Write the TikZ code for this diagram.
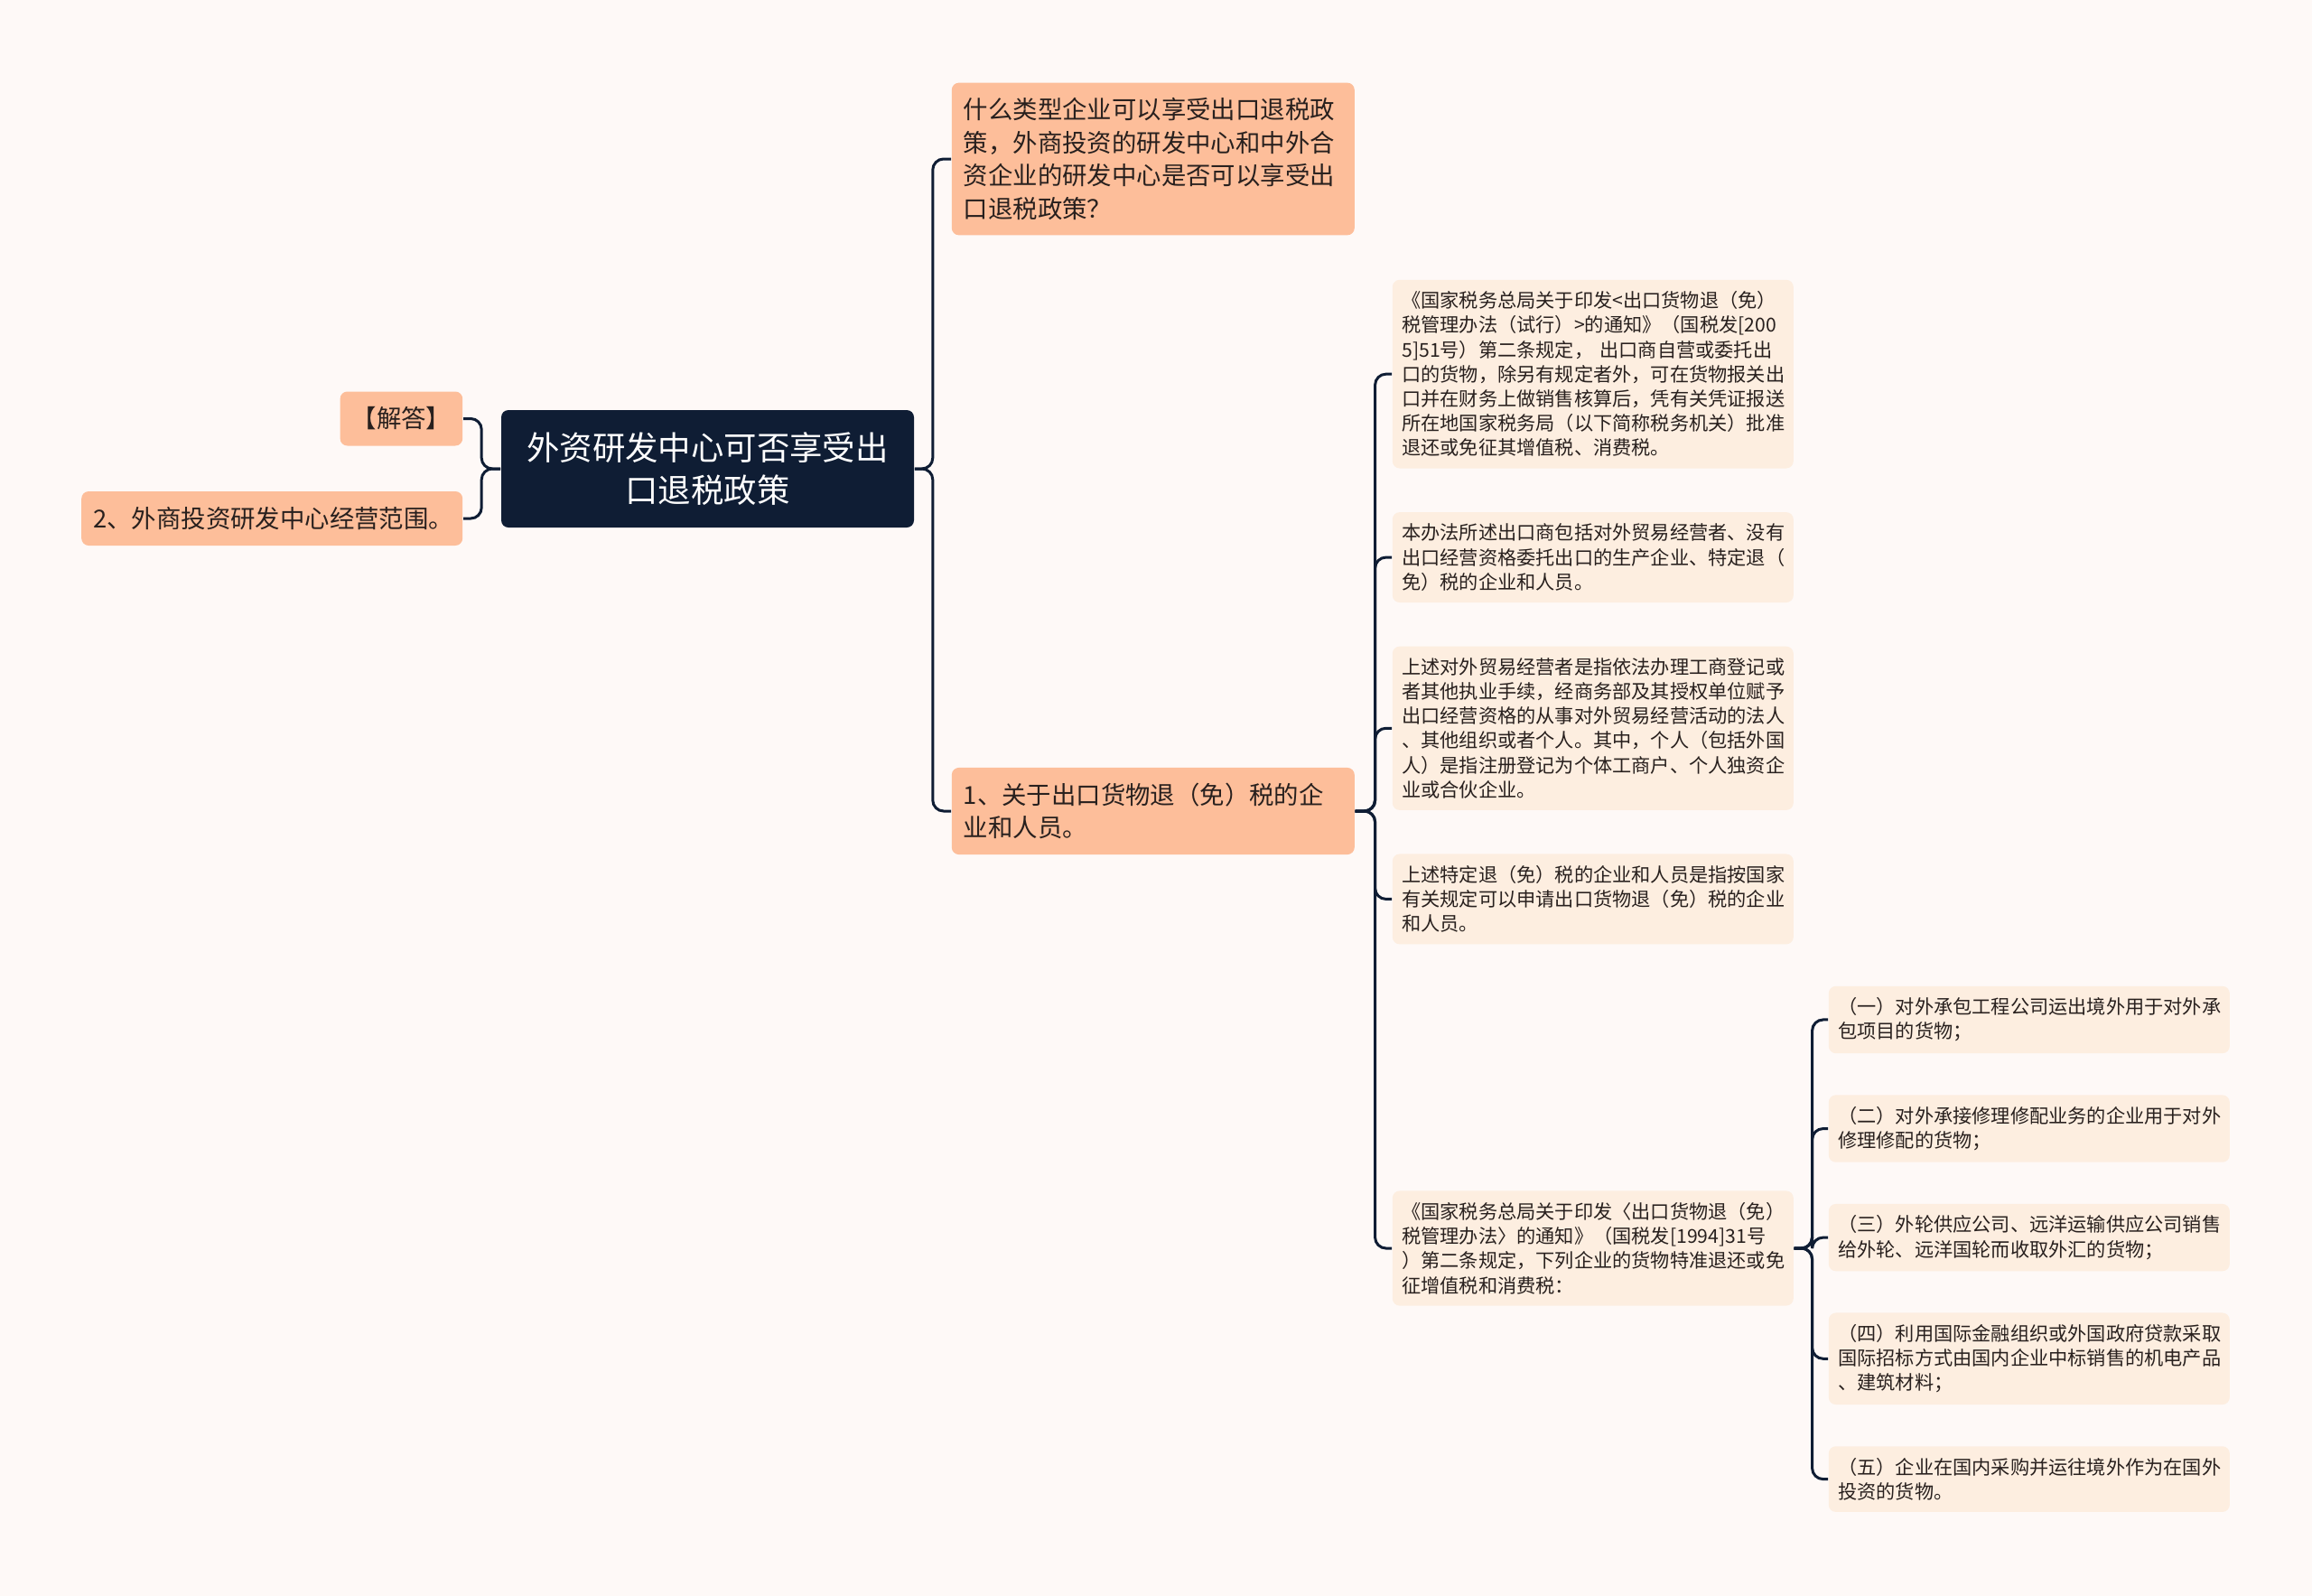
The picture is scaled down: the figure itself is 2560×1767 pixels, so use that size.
\documentclass[tikz,border=0pt]{standalone}
\usepackage{fontspec}
\setmainfont{Noto Sans CJK SC}
\usepackage{xcolor}
\usetikzlibrary{positioning}

\definecolor{paper}{RGB}{254,249,247}
\definecolor{navy}{RGB}{15,29,52}
\definecolor{peach}{RGB}{253,190,154}
\definecolor{cream}{RGB}{253,238,224}
\definecolor{ink}{RGB}{40,32,30}

\begin{document}
\begin{tikzpicture}[x=0.5pt,y=-0.5pt,node distance=23.5pt,thick,
	root node/.style={fill=navy,text=white,rounded corners=4pt,align=center,
		minimum width=228.5pt,minimum height=65pt,font=\fontsize{18.2pt}{23.7pt}\selectfont},
	topic node/.style={fill=peach,text=ink,rounded corners=4pt,align=left,
		inner xsep=6.5pt,inner ysep=8.5pt,font=\fontsize{13.7pt}{18.2pt}\selectfont},
	side node/.style={topic node,inner ysep=0pt,minimum height=30pt},
	leaf node/.style={fill=cream,text=ink,rounded corners=4pt,align=left,text width=211.5pt,
		inner xsep=5.25pt,inner ysep=6.4pt,font=\fontsize{10.6pt}{13.6pt}\selectfont},
	link/.style={draw=navy,line width=1.5pt,rounded corners=6pt}]
	
	\fill[paper] (0,0) rectangle (2560,1767);
	\useasboundingbox (0,0) rectangle (2560,1767);
	
	\node[root node] (root) at (783.5,519) {外资研发中心可否享受出\\口退税政策};
	
	% left side
	\node[side node,anchor=east] (answer) at (513,463.5) {【解答】};
	\node[side node,anchor=east,text width=198pt] (scope) at (513,574) {2、外商投资研发中心经营范围。};
	
	% right side
	\node[topic node,text width=210pt,anchor=west] (question) at (1053,176) {什么类型企业可以享受出口退税政\\策，外商投资的研发中心和中外合\\资企业的研发中心是否可以享受出\\口退税政策？};
	\node[topic node,text width=210pt,anchor=west] (firms) at (1053,898) {1、关于出口货物退（免）税的企\\业和人员。};
	
	\node[leaf node,anchor=north west] (rule1) at (1541,309) {《国家税务总局关于印发<出口货物退（免）\\税管理办法（试行）>的通知》（国税发[200\\5]51号）第二条规定， 出口商自营或委托出\\口的货物，除另有规定者外，可在货物报关出\\口并在财务上做销售核算后，凭有关凭证报送\\所在地国家税务局（以下简称税务机关）批准\\退还或免征其增值税、消费税。};
	\node[leaf node] (rule2) [below=of rule1] {本办法所述出口商包括对外贸易经营者、没有\\出口经营资格委托出口的生产企业、特定退（\\免）税的企业和人员。};
	\node[leaf node] (rule3) [below=of rule2] {上述对外贸易经营者是指依法办理工商登记或\\者其他执业手续，经商务部及其授权单位赋予\\出口经营资格的从事对外贸易经营活动的法人\\、其他组织或者个人。其中，个人（包括外国\\人）是指注册登记为个体工商户、个人独资企\\业或合伙企业。};
	\node[leaf node] (rule4) [below=of rule3] {上述特定退（免）税的企业和人员是指按国家\\有关规定可以申请出口货物退（免）税的企业\\和人员。};
	\node[leaf node,anchor=west] (rule5) at (1541,1382) {《国家税务总局关于印发〈出口货物退（免）\\税管理办法〉的通知》（国税发[1994]31号\\）第二条规定，下列企业的货物特准退还或免\\征增值税和消费税：};
	
	\begin{scope}[node distance=22.3pt]
	\node[leaf node,anchor=north west] (item1) at (2024,1091) {（一）对外承包工程公司运出境外用于对外承\\包项目的货物；};
	\node[leaf node] (item2) [below=of item1] {（二）对外承接修理修配业务的企业用于对外\\修理修配的货物；};
	\node[leaf node] (item3) [below=of item2] {（三）外轮供应公司、远洋运输供应公司销售\\给外轮、远洋国轮而收取外汇的货物；};
	\node[leaf node] (item4) [below=of item3] {（四）利用国际金融组织或外国政府贷款采取\\国际招标方式由国内企业中标销售的机电产品\\、建筑材料；};
	\node[leaf node] (item5) [below=of item4] {（五）企业在国内采购并运往境外作为在国外\\投资的货物。};
	\end{scope}
	
	% connectors
	\foreach \n in {answer,scope}
		\draw[link] (root.west) -- ++(-21,0) |- (\n.east);
	\foreach \n in {question,firms}
		\draw[link] (root.east) -- ++(20,0) |- (\n.west);
	\foreach \n in {rule1,rule2,rule3,rule4,rule5}
		\draw[link] (firms.east) -- ++(22,0) |- (\n.west);
	\foreach \n in {item1,item2,item3,item4,item5}
		\draw[link] (rule5.east) -- ++(20,0) |- (\n.west);
\end{tikzpicture}
\end{document}
